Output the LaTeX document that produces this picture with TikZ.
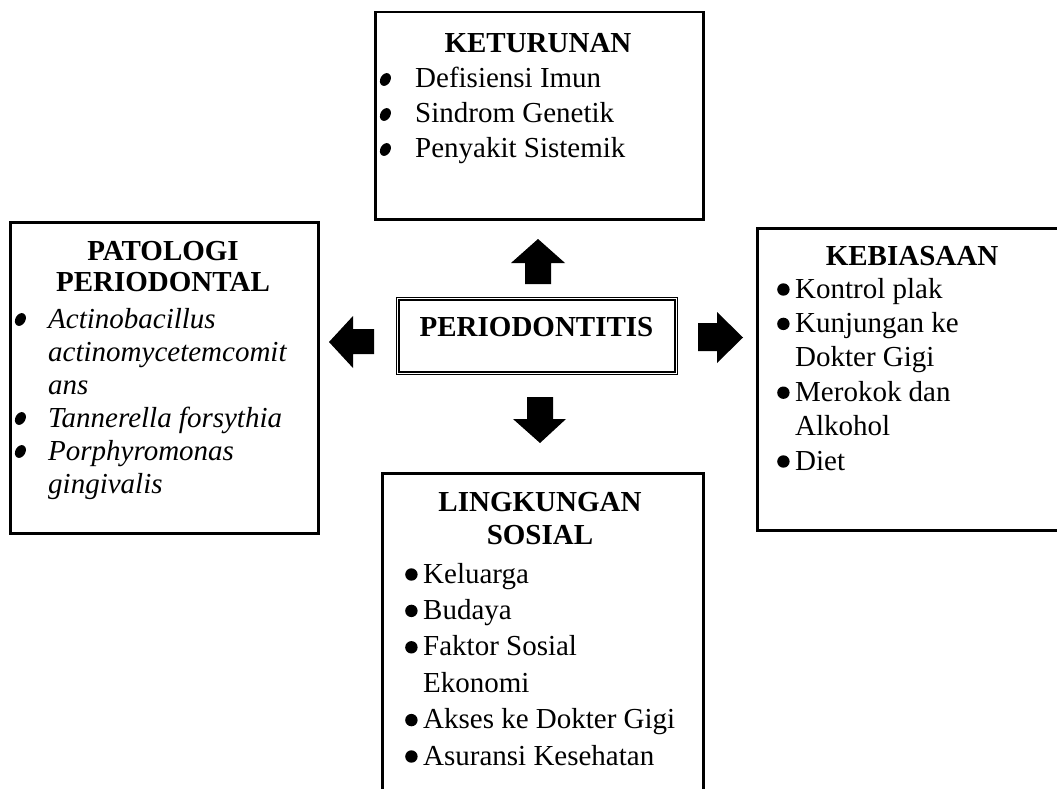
\documentclass[tikz,border=0pt]{standalone}
\usepackage{fontspec}
\setmainfont{Liberation Serif}
\usetikzlibrary{positioning}

% round and slanted bullets
\newcommand{\rbul}{\tikz[x=1pt,y=1pt,baseline=0pt]\fill (6.5,8.5) circle (6.2);}
\newcommand{\sbul}{\tikz[x=1pt,y=1pt,baseline=0pt]\fill[rotate around={60:(6.5,8.5)}] (6.5,8.5) ellipse (6.8 and 5);}
\newcommand{\itm}[3][\rbul]{\makebox[#2][l]{#1}#3}

\tikzset{
  box/.style={draw, line width=2.5pt, inner sep=0pt, anchor=north west},
  head/.style={anchor=base, inner sep=0pt, font=\fontsize{29}{#1}\selectfont\bfseries},
  items/.style={anchor=base west, inner sep=0pt, font=\fontsize{29}{#1}\selectfont},
}

\begin{document}
\begin{tikzpicture}[x=1pt,y=-1pt]
  \useasboundingbox (0,0) rectangle (1057,789);
  \clip (0,0) rectangle (1057,789);

  % boxes
  \node[box, minimum width=328pt, minimum height=207pt] (keturunan) at (374,11) {};
  \node[box, minimum width=308pt, minimum height=311pt] (patologi) at (9,221) {};
  \node[box, minimum width=315pt, minimum height=302pt] (kebiasaan) at (756,227) {};
  \node[box, minimum width=321pt, minimum height=340pt] (lingkungan) at (381,472) {};
  \node[box, line width=1pt, minimum width=281pt, minimum height=77pt] (periodontitis) at (396,297) {};
  \draw[line width=2pt] ([shift={(3,3)}]periodontitis.north west) rectangle ([shift={(-3,-3)}]periodontitis.south east);

  % center
  \node[head=35] (perio-head) at (536.5,336) {PERIODONTITIS};

  % keturunan
  \node[head=35] (ket-head) at (538,53) {KETURUNAN};
  \node[items=35] (ket-list) at (379,88) {\begin{tabular}[t]{@{}l@{}}
    \itm[\sbul]{36pt}{Defisiensi Imun}\\
    \itm[\sbul]{36pt}{Sindrom Genetik}\\
    \itm[\sbul]{36pt}{Penyakit Sistemik}
  \end{tabular}};

  % patologi periodontal
  \node[head=31.7] (pat-head) at (163,260) {\begin{tabular}[t]{@{}c@{}}PATOLOGI\\PERIODONTAL\end{tabular}};
  \node[items=33, font=\fontsize{29}{33}\selectfont\itshape] (pat-list) at (14,328) {\begin{tabular}[t]{@{}l@{}}
    \itm[\sbul]{34pt}{Actinobacillus}\\
    \hspace*{34pt}actinomycetemcomit\\
    \hspace*{34pt}ans\\
    \itm[\sbul]{34pt}{Tannerella forsythia}\\
    \itm[\sbul]{34pt}{Porphyromonas}\\
    \hspace*{34pt}gingivalis
  \end{tabular}};

  % kebiasaan
  \node[head=35] (keb-head) at (912,265) {KEBIASAAN};
  \node[items=34.4] (keb-list) at (777,298) {\begin{tabular}[t]{@{}l@{}}
    \itm{18pt}{Kontrol plak}\\
    \itm{18pt}{Kunjungan ke}\\
    \hspace*{18pt}Dokter Gigi\\
    \itm{18pt}{Merokok dan}\\
    \hspace*{18pt}Alkohol\\
    \itm{18pt}{Diet}
  \end{tabular}};

  % lingkungan sosial
  \node[head=33] (ling-head) at (540,511) {\begin{tabular}[t]{@{}c@{}}LINGKUNGAN\\SOSIAL\end{tabular}};
  \node[items=36.4] (ling-list) at (405,583) {\begin{tabular}[t]{@{}l@{}}
    \itm{18pt}{Keluarga}\\
    \itm{18pt}{Budaya}\\
    \itm{18pt}{Faktor Sosial}\\
    \hspace*{18pt}Ekonomi\\
    \itm{18pt}{Akses ke Dokter Gigi}\\
    \itm{18pt}{Asuransi Kesehatan}
  \end{tabular}};

  % block arrows
  \fill (525,284) -- (525,263) -- (511,263) -- (538,239) -- (565,263) -- (551,263) -- (551,284) -- cycle;
  \fill (374,329) -- (353,329) -- (353,316) -- (329,342) -- (353,368) -- (353,354) -- (374,354) -- cycle;
  \fill (698,323) -- (717,323) -- (717,312) -- (743,337.5) -- (717,363) -- (717,351) -- (698,351) -- cycle;
  \fill (527,397) -- (553,397) -- (553,419) -- (566,419) -- (540,443) -- (513,419) -- (527,419) -- cycle;
\end{tikzpicture}
\end{document}
